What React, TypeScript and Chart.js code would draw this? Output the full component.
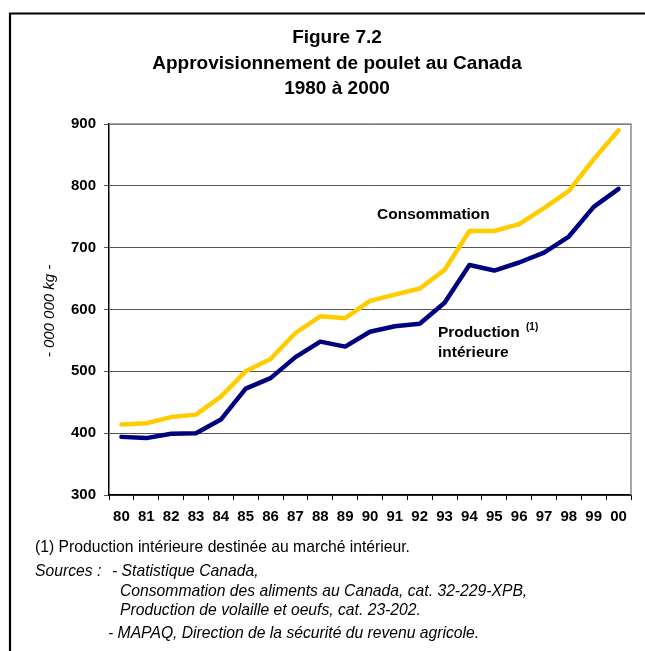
import React, { useEffect, useRef } from "react";
import { Chart, registerables } from "chart.js";

Chart.register(...registerables);

const years = ["80","81","82","83","84","85","86","87","88","89","90","91","92","93","94","95","96","97","98","99","00"];
const consommation = [414, 416, 426, 430, 459, 500, 520, 562, 589, 586, 614, 624, 634, 664, 727, 727, 738, 764, 792, 843, 890];
const production = [394, 392, 399, 400, 422, 472, 489, 523, 548, 540, 564, 573, 577, 611, 672, 663, 676, 692, 718, 766, 795];
const titleLines = ["Figure 7.2", "Approvisionnement de poulet au Canada", "1980 à 2000"];
const yTitle = "- 000 000 kg -";
const footnote = "(1) Production intérieure destinée au marché intérieur.";

const FONT = "Arial, 'Liberation Sans', Helvetica, sans-serif";

const decorPlugin = {
  id: "decor",
  beforeDraw(chart: any) {
    const ctx = chart.ctx;
    ctx.save();
    ctx.fillStyle = "#fff";
    ctx.fillRect(0, 0, chart.width, chart.height);
    ctx.restore();
  },
  beforeDatasetsDraw(chart: any) {
    const ctx = chart.ctx;
    const a = chart.chartArea;
    ctx.save();
    ctx.strokeStyle = "#8a8a8a";
    ctx.lineWidth = 1.5;
    ctx.beginPath();
    ctx.moveTo(a.left, a.top);
    ctx.lineTo(a.right, a.top);
    ctx.lineTo(a.right, a.bottom);
    ctx.stroke();
    ctx.restore();
  },
  afterDraw(chart: any) {
    const ctx = chart.ctx;
    ctx.save();
    // outer frame
    ctx.strokeStyle = "#000";
    ctx.lineWidth = 2.2;
    ctx.beginPath();
    ctx.moveTo(10, 700);
    ctx.lineTo(10, 13.5);
    ctx.lineTo(700, 13.5);
    ctx.stroke();

    // title
    ctx.fillStyle = "#000";
    ctx.textAlign = "center";
    ctx.textBaseline = "middle";
    ctx.font = `bold 19px ${FONT}`;
    const ty = [38, 64, 89];
    titleLines.forEach((t, i) => ctx.fillText(t, 337, ty[i]));

    // y axis title
    ctx.save();
    ctx.translate(50, 311);
    ctx.rotate(-Math.PI / 2);
    ctx.font = `italic 15px ${FONT}`;
    ctx.fillText(yTitle, 0, 0);
    ctx.restore();

    // series labels
    ctx.textAlign = "left";
    ctx.font = `bold 15.5px ${FONT}`;
    ctx.fillText("Consommation", 377, 215);
    ctx.fillText("Production", 438, 333);
    ctx.fillText("intérieure", 438, 353);
    ctx.font = `bold 10px ${FONT}`;
    ctx.fillText("(1)", 526, 327);

    // footnotes
    ctx.font = `15.7px ${FONT}`;
    ctx.fillText(footnote, 35, 548);
    ctx.font = `italic 15.7px ${FONT}`;
    ctx.fillText("Sources :", 35, 572);
    ctx.fillText("- Statistique Canada,", 112, 572);
    ctx.fillText("Consommation des aliments au Canada, cat. 32-229-XPB,", 120, 592);
    ctx.fillText("Production de volaille et oeufs, cat. 23-202.", 120, 611);
    ctx.fillText("- MAPAQ, Direction de la sécurité du revenu agricole.", 108, 634);
    ctx.restore();
  },
};

export default function App() {
  const ref = useRef<HTMLCanvasElement>(null);
  useEffect(() => {
    if (!ref.current) return;
    const tickFont = { family: FONT, size: 15, weight: "bold" as const };
    const chart = new Chart(ref.current, {
      type: "line",
      data: {
        labels: years,
        datasets: [
          {
            label: "Consommation",
            data: consommation,
            borderColor: "#FFCC00",
            backgroundColor: "#FFCC00",
            borderWidth: 4.5,
            pointRadius: 0,
            tension: 0,
            borderCapStyle: "round",
            borderJoinStyle: "round",
          },
          {
            label: "Production intérieure",
            data: production,
            borderColor: "#000080",
            backgroundColor: "#000080",
            borderWidth: 4.5,
            pointRadius: 0,
            tension: 0,
            borderCapStyle: "round",
            borderJoinStyle: "round",
          },
        ],
      },
      options: {
        responsive: false,
        animation: false,
        devicePixelRatio: 1,
        layout: { padding: { left: 0, right: 14, top: 124, bottom: 116 } },
        plugins: { legend: { display: false }, title: { display: false }, tooltip: { enabled: false } },
        scales: {
          x: {
            type: "category",
            offset: true,
            grid: { offset: true, drawOnChartArea: false, drawTicks: true, tickLength: 5, color: "#000", lineWidth: 1 },
            border: { color: "#000", width: 1.5 },
            ticks: { font: tickFont, color: "#000", padding: 8, maxRotation: 0, autoSkip: false },
            afterFit: (s: any) => { s.height = 40; },
          },
          y: {
            min: 300,
            max: 900,
            ticks: { stepSize: 100, font: tickFont, color: "#000", padding: 8 },
            grid: { color: "#555", lineWidth: 1, tickLength: 5, drawTicks: true },
            border: { color: "#000", width: 1.5 },
            afterFit: (s: any) => { s.width = 109; },
          },
        },
      },
      plugins: [decorPlugin],
    });
    return () => chart.destroy();
  }, []);
  return (
    <div style={{ position: "absolute", left: 0, top: 0, width: 645, height: 651 }}>
      <canvas ref={ref} width={645} height={651} style={{ width: 645, height: 651, display: "block" }} />
    </div>
  );
}
